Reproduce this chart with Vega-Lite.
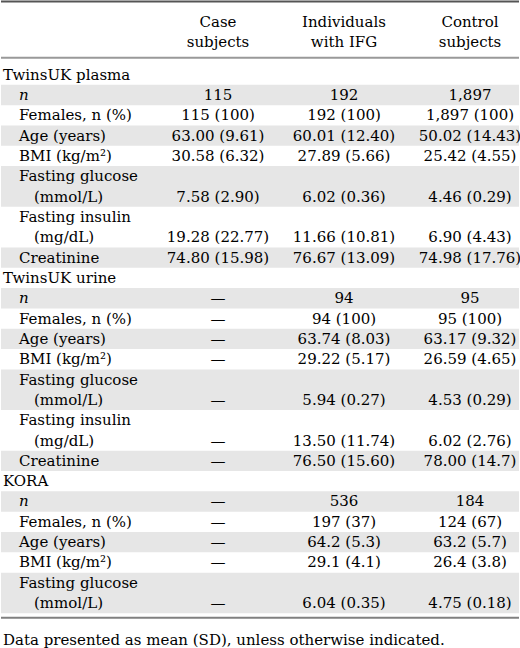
{
  "$schema": "https://vega.github.io/schema/vega-lite/v6.json",
  "description": "Characteristics of study participants (TwinsUK plasma, TwinsUK urine, KORA), drawn as a table.",
  "width": 520,
  "height": 648,
  "autosize": {"type": "fit", "contains": "padding"},
  "padding": 0,
  "background": "#ffffff",
  "config": {
    "view": {"stroke": null},
    "text": {"font": "DejaVu Serif", "fontSize": 15, "color": "#000000", "baseline": "middle"}
  },
  "datasets": {
    "sections": [
      {"section": "TwinsUK plasma", "line": 0},
      {"section": "TwinsUK urine", "line": 10},
      {"section": "KORA", "line": 20}
    ],
    "rows": [
      {"section": "TwinsUK plasma", "line": 1, "lines": 1, "label": "n", "sub": null, "case": "115", "ifg": "192", "ctrl": "1,897"},
      {"section": "TwinsUK plasma", "line": 2, "lines": 1, "label": "Females, n (%)", "sub": null, "case": "115 (100)", "ifg": "192 (100)", "ctrl": "1,897 (100)"},
      {"section": "TwinsUK plasma", "line": 3, "lines": 1, "label": "Age (years)", "sub": null, "case": "63.00 (9.61)", "ifg": "60.01 (12.40)", "ctrl": "50.02 (14.43)"},
      {"section": "TwinsUK plasma", "line": 4, "lines": 1, "label": "BMI (kg/m²)", "sub": null, "case": "30.58 (6.32)", "ifg": "27.89 (5.66)", "ctrl": "25.42 (4.55)"},
      {"section": "TwinsUK plasma", "line": 5, "lines": 2, "label": "Fasting glucose", "sub": "(mmol/L)", "case": "7.58 (2.90)", "ifg": "6.02 (0.36)", "ctrl": "4.46 (0.29)"},
      {"section": "TwinsUK plasma", "line": 7, "lines": 2, "label": "Fasting insulin", "sub": "(mg/dL)", "case": "19.28 (22.77)", "ifg": "11.66 (10.81)", "ctrl": "6.90 (4.43)"},
      {"section": "TwinsUK plasma", "line": 9, "lines": 1, "label": "Creatinine", "sub": null, "case": "74.80 (15.98)", "ifg": "76.67 (13.09)", "ctrl": "74.98 (17.76)"},
      {"section": "TwinsUK urine", "line": 11, "lines": 1, "label": "n", "sub": null, "case": "—", "ifg": "94", "ctrl": "95"},
      {"section": "TwinsUK urine", "line": 12, "lines": 1, "label": "Females, n (%)", "sub": null, "case": "—", "ifg": "94 (100)", "ctrl": "95 (100)"},
      {"section": "TwinsUK urine", "line": 13, "lines": 1, "label": "Age (years)", "sub": null, "case": "—", "ifg": "63.74 (8.03)", "ctrl": "63.17 (9.32)"},
      {"section": "TwinsUK urine", "line": 14, "lines": 1, "label": "BMI (kg/m²)", "sub": null, "case": "—", "ifg": "29.22 (5.17)", "ctrl": "26.59 (4.65)"},
      {"section": "TwinsUK urine", "line": 15, "lines": 2, "label": "Fasting glucose", "sub": "(mmol/L)", "case": "—", "ifg": "5.94 (0.27)", "ctrl": "4.53 (0.29)"},
      {"section": "TwinsUK urine", "line": 17, "lines": 2, "label": "Fasting insulin", "sub": "(mg/dL)", "case": "—", "ifg": "13.50 (11.74)", "ctrl": "6.02 (2.76)"},
      {"section": "TwinsUK urine", "line": 19, "lines": 1, "label": "Creatinine", "sub": null, "case": "—", "ifg": "76.50 (15.60)", "ctrl": "78.00 (14.7)"},
      {"section": "KORA", "line": 21, "lines": 1, "label": "n", "sub": null, "case": "—", "ifg": "536", "ctrl": "184"},
      {"section": "KORA", "line": 22, "lines": 1, "label": "Females, n (%)", "sub": null, "case": "—", "ifg": "197 (37)", "ctrl": "124 (67)"},
      {"section": "KORA", "line": 23, "lines": 1, "label": "Age (years)", "sub": null, "case": "—", "ifg": "64.2 (5.3)", "ctrl": "63.2 (5.7)"},
      {"section": "KORA", "line": 24, "lines": 1, "label": "BMI (kg/m²)", "sub": null, "case": "—", "ifg": "29.1 (4.1)", "ctrl": "26.4 (3.8)"},
      {"section": "KORA", "line": 25, "lines": 2, "label": "Fasting glucose", "sub": "(mmol/L)", "case": "—", "ifg": "6.04 (0.35)", "ctrl": "4.75 (0.18)"}
    ],
    "header": [
      {"key": "case", "text": "Case\nsubjects"},
      {"key": "ifg", "text": "Individuals\nwith IFG"},
      {"key": "ctrl", "text": "Control\nsubjects"}
    ],
    "rules": [
      {"pos": -3.6, "kind": "top"},
      {"pos": -0.83, "kind": "header"},
      {"pos": 26.72, "kind": "bottom"}
    ]
  },
  "layer": [
    {
      "data": {"name": "rows"},
      "transform": [
        {"window": [{"op": "row_number", "as": "rank"}], "groupby": ["section"], "sort": [{"field": "line"}]},
        {"filter": "datum.rank % 2 == 1"},
        {"calculate": "datum.line - 0.5", "as": "top"},
        {"calculate": "datum.line + datum.lines - 0.5", "as": "bottom"}
      ],
      "mark": {"type": "rect", "color": "#e6e6e6"},
      "encoding": {
        "x": {"value": 0},
        "x2": {"value": "width"},
        "y": {"field": "top", "type": "quantitative", "scale": {"domain": [-3.673, 28.06], "reverse": true, "nice": false, "zero": false}, "axis": null},
        "y2": {"field": "bottom"}
      }
    },
    {
      "data": {"name": "rules"},
      "mark": {"type": "rule"},
      "encoding": {
        "y": {"field": "pos", "type": "quantitative"},
        "color": {"field": "kind", "type": "nominal", "scale": {"domain": ["top", "header", "bottom"], "range": ["#555555", "#999999", "#808080"]}, "legend": null},
        "strokeWidth": {"field": "kind", "type": "nominal", "scale": {"domain": ["top", "header", "bottom"], "range": [2, 2, 1.5]}, "legend": null}
      }
    },
    {
      "data": {"name": "header"},
      "mark": {"type": "text", "align": "center", "lineBreak": "\n", "lineHeight": 20},
      "encoding": {
        "x": {"field": "key", "type": "nominal", "scale": {"type": "point", "domain": ["case", "ifg", "ctrl"], "range": [217, 469], "padding": 0}, "axis": null},
        "y": {"datum": -2.596, "type": "quantitative"},
        "text": {"field": "text"}
      }
    },
    {
      "data": {"name": "sections"},
      "mark": {"type": "text", "align": "left"},
      "encoding": {
        "x": {"value": 2},
        "y": {"field": "line", "type": "quantitative"},
        "text": {"field": "section"}
      }
    },
    {
      "data": {"name": "rows"},
      "transform": [{"filter": "datum.label != 'n'"}],
      "mark": {"type": "text", "align": "left"},
      "encoding": {
        "x": {"value": 18},
        "y": {"field": "line", "type": "quantitative"},
        "text": {"field": "label"}
      }
    },
    {
      "data": {"name": "rows"},
      "transform": [{"filter": "datum.label == 'n'"}],
      "mark": {"type": "text", "align": "left", "fontStyle": "italic"},
      "encoding": {
        "x": {"value": 18},
        "y": {"field": "line", "type": "quantitative"},
        "text": {"field": "label"}
      }
    },
    {
      "data": {"name": "rows"},
      "transform": [
        {"filter": "datum.sub != null"},
        {"calculate": "datum.line + 1", "as": "subline"}
      ],
      "mark": {"type": "text", "align": "left"},
      "encoding": {
        "x": {"value": 33},
        "y": {"field": "subline", "type": "quantitative"},
        "text": {"field": "sub"}
      }
    },
    {
      "data": {"name": "rows"},
      "transform": [
        {"fold": ["case", "ifg", "ctrl"], "as": ["key", "value"]},
        {"calculate": "datum.line + datum.lines - 1", "as": "vline"}
      ],
      "mark": {"type": "text", "align": "center"},
      "encoding": {
        "x": {"field": "key", "type": "nominal"},
        "y": {"field": "vline", "type": "quantitative"},
        "text": {"field": "value"}
      }
    },
    {
      "data": {"values": [{"note": "Data presented as mean (SD), unless otherwise indicated."}]},
      "mark": {"type": "text", "align": "left"},
      "encoding": {
        "x": {"value": 2},
        "y": {"datum": 27.8, "type": "quantitative"},
        "text": {"field": "note"}
      }
    }
  ]
}
